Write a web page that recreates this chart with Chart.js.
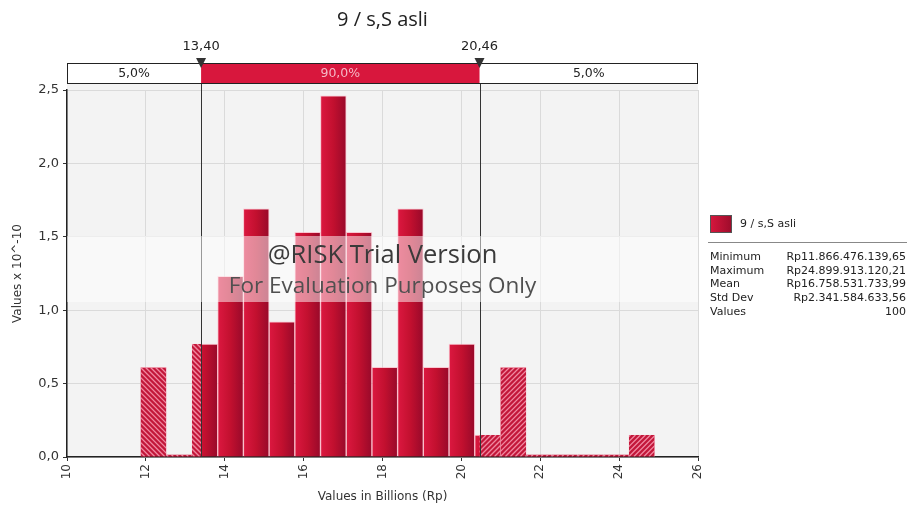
<!DOCTYPE html>
<html>
<head>
<meta charset="utf-8">
<script src="https://cdn.jsdelivr.net/npm/chart.js@4.4.1/dist/chart.umd.min.js"></script>
<style>
  html, body { margin: 0; padding: 0; background: #fff; }
  #wrap { width: 907px; height: 515px; }
</style>
</head>
<body>
<div id="wrap"><canvas id="hist" width="907" height="515"></canvas></div>
<script>
// histogram bins (billions Rp) and density (x 10^-10)
const binEdges = [11.866, 12.518, 13.170, 13.821, 14.473, 15.125, 15.777, 16.428, 17.080, 17.732,
                  18.383, 19.035, 19.687, 20.339, 20.990, 21.642, 22.294, 22.945, 23.597, 24.249, 24.900];
const binValues = [0.61, 0, 0.77, 1.23, 1.69, 0.92, 1.53, 2.46, 1.53, 0.61,
                   1.69, 0.61, 0.77, 0.15, 0.61, 0, 0, 0, 0, 0.15];
const xTicks = [10, 12, 14, 16, 18, 20, 22, 24, 26];
const yTicks = [0, 0.5, 1.0, 1.5, 2.0, 2.5];
const cutLow = 13.40, cutHigh = 20.46;
const shares = ['5,0%', '90,0%', '5,0%'];
const statNames = ['Minimum', 'Maximum', 'Mean', 'Std Dev', 'Values'];
const statValues = ['Rp11.866.476.139,65', 'Rp24.899.913.120,21', 'Rp16.758.531.733,99', 'Rp2.341.584.633,56', '100'];
const seriesName = '9 / s,S asli';

const FONT = '"DejaVu Sans", Verdana, sans-serif';
const WFONT = '"Open Sans", "Noto Sans", sans-serif';
const points = binValues.map(function (v, i) {
    return { x: (binEdges[i] + binEdges[i + 1]) / 2, y: v };
});

function comma(v, d) { return v.toFixed(d).replace('.', ','); }

const decor = {
    id: 'decor',
    beforeDraw(chart) {
        const c = chart.ctx, a = chart.chartArea;
        c.save();
        c.fillStyle = '#f3f3f3';
        c.fillRect(a.left, 84, a.right - a.left, a.bottom - 84);
        c.restore();
    },
    afterDatasetsDraw(chart) {
        const c = chart.ctx, a = chart.chartArea, xs = chart.scales.x;
        const pLo = xs.getPixelForValue(cutLow), pHi = xs.getPixelForValue(cutHigh);
        const meta = chart.getDatasetMeta(0);
        meta.data.forEach(function (bar) {
            const l = bar.x - bar.width / 2, r = bar.x + bar.width / 2;
            const t = Math.min(bar.y, bar.base - 2), b = bar.base;
            [[l, Math.min(r, pLo), -1], [Math.max(l, pHi), r, 1]].forEach(function (seg) {
                if (seg[1] <= seg[0]) return;
                c.save();
                c.beginPath();
                c.rect(seg[0], t, seg[1] - seg[0], b - t);
                c.clip();
                c.fillStyle = '#c3173a';
                c.fillRect(seg[0], t, seg[1] - seg[0], b - t);
                c.strokeStyle = 'rgba(255,175,195,0.75)';
                c.lineWidth = 1.3;
                c.beginPath();
                for (let k = -200; k < 200; k += 5) {
                    if (seg[2] < 0) { c.moveTo(seg[0] + k, t); c.lineTo(seg[0] + k + (b - t), b); }
                    else { c.moveTo(seg[0] + k, b); c.lineTo(seg[0] + k + (b - t), t); }
                }
                c.stroke();
                c.restore();
            });
        });
        // cut-off lines
        c.save();
        c.strokeStyle = '#333';
        c.lineWidth = 1;
        [pLo, pHi].forEach(function (p) {
            c.beginPath();
            c.moveTo(Math.round(p) + 0.5, 83);
            c.lineTo(Math.round(p) + 0.5, a.bottom);
            c.stroke();
        });
        c.restore();
    },
    afterDraw(chart) {
        const c = chart.ctx, a = chart.chartArea, xs = chart.scales.x;
        const pLo = xs.getPixelForValue(cutLow), pHi = xs.getPixelForValue(cutHigh);
        const mid = (a.left + a.right) / 2;
        c.save();
        // watermark
        c.fillStyle = 'rgba(255,255,255,0.5)';
        c.fillRect(a.left, 236, a.right - a.left, 66);
        c.textAlign = 'center';
        c.textBaseline = 'middle';
        c.fillStyle = '#3a3a3a';
        c.font = '25.5px ' + WFONT;
        c.fillText('@RISK Trial Version', mid, 256);
        c.fillStyle = '#505050';
        c.font = '22.5px ' + WFONT;
        c.fillText('For Evaluation Purposes Only', mid, 287);
        // title
        c.fillStyle = '#222';
        c.font = '20px ' + WFONT;
        c.fillText(seriesName, mid, 20);
        // top delimiter bar
        const y0 = 63, h = 20;
        c.fillStyle = '#fff';
        c.fillRect(a.left, y0, a.right - a.left, h);
        c.fillStyle = '#d8173d';
        c.fillRect(pLo, y0, pHi - pLo, h);
        c.strokeStyle = '#222';
        c.lineWidth = 1;
        c.strokeRect(a.left + 0.5, y0 + 0.5, a.right - a.left - 1, h);
        c.font = '12.5px ' + FONT;
        c.fillStyle = '#222';
        c.fillText(shares[0], (a.left + pLo) / 2, y0 + h / 2 + 1);
        c.fillText(shares[2], (pHi + a.right) / 2, y0 + h / 2 + 1);
        c.fillStyle = '#f5b9c6';
        c.fillText(shares[1], (pLo + pHi) / 2, y0 + h / 2 + 1);
        // markers
        c.fillStyle = '#222';
        c.font = '13px ' + FONT;
        [[pLo, cutLow], [pHi, cutHigh]].forEach(function (m) {
            c.fillText(comma(m[1], 2), m[0], 47);
            c.fillStyle = '#333';
            c.beginPath();
            c.moveTo(m[0] - 5, 58);
            c.lineTo(m[0] + 5, 58);
            c.lineTo(m[0], 68);
            c.closePath();
            c.fill();
            c.fillStyle = '#222';
        });
        // legend + stats
        const g = c.createLinearGradient(710, 0, 732, 0);
        g.addColorStop(0, '#d8173d');
        g.addColorStop(1, '#9c0c2b');
        c.fillStyle = g;
        c.fillRect(710, 215, 21, 17);
        c.strokeStyle = '#555';
        c.strokeRect(710.5, 215.5, 21, 17);
        c.textAlign = 'left';
        c.fillStyle = '#222';
        c.font = '11px ' + FONT;
        c.fillText(seriesName, 740, 224);
        c.strokeStyle = '#888';
        c.beginPath();
        c.moveTo(708, 242.5);
        c.lineTo(907, 242.5);
        c.stroke();
        c.font = '11px ' + FONT;
        statNames.forEach(function (n, i) {
            const y = 257 + i * 13.7;
            c.textAlign = 'left';
            c.fillText(n, 710, y);
            c.textAlign = 'right';
            c.fillText(statValues[i], 906, y);
        });
        c.restore();
    }
};

new Chart(document.getElementById('hist'), {
    type: 'bar',
    data: {
        datasets: [{
            label: seriesName,
            data: points,
            barPercentage: 1,
            categoryPercentage: 1,
            minBarLength: 2,
            borderWidth: 1,
            borderColor: 'rgba(255,160,180,0.55)',
            borderSkipped: 'bottom',
            backgroundColor: function (ctx) {
                const ch = ctx.chart, xs = ch.scales.x;
                if (ctx.type !== 'data' || !xs) return '#c3173a';
                const i = ctx.dataIndex;
                const l = xs.getPixelForValue(binEdges[i]), r = xs.getPixelForValue(binEdges[i + 1]);
                if (!isFinite(l) || !isFinite(r) || r <= l) return '#c3173a';
                const g = ch.ctx.createLinearGradient(l, 0, r, 0);
                g.addColorStop(0, '#dc1840');
                g.addColorStop(0.5, '#c2102f');
                g.addColorStop(1, '#98092a');
                return g;
            }
        }]
    },
    options: {
        responsive: false,
        animation: false,
        layout: { padding: { top: 90, right: 209, left: 0, bottom: 0 } },
        plugins: { legend: { display: false }, tooltip: { enabled: false }, title: { display: false } },
        scales: {
            x: {
                type: 'linear',
                offset: false,
                min: xTicks[0],
                max: xTicks[xTicks.length - 1],
                afterBuildTicks: function (s) { s.ticks = xTicks.map(function (v) { return { value: v }; }); },
                afterFit: function (s) { s.height = 58; },
                grid: { offset: false, color: '#dadada', tickColor: '#333', tickLength: 4, drawTicks: true },
                border: { color: '#222', width: 1.5 },
                ticks: {
                    minRotation: 90, maxRotation: 90, padding: 3,
                    color: '#333', font: { family: FONT, size: 12 },
                    callback: function (v) { return String(v); }
                },
                title: {
                    display: true, text: 'Values in Billions (Rp)', color: '#333',
                    font: { family: FONT, size: 12 }, padding: { top: 0, bottom: 11 }
                }
            },
            y: {
                min: yTicks[0],
                max: yTicks[yTicks.length - 1],
                afterBuildTicks: function (s) { s.ticks = yTicks.map(function (v) { return { value: v }; }); },
                afterFit: function (s) { s.width = 67; },
                grid: { color: '#dadada', tickColor: '#333', tickLength: 4 },
                border: { color: '#222', width: 1.5 },
                ticks: {
                    padding: 4, color: '#333', font: { family: FONT, size: 13 },
                    callback: function (v) { return comma(v, 1); }
                },
                title: {
                    display: true, text: 'Values x 10^-10', color: '#333',
                    font: { family: FONT, size: 12 }, padding: { top: 11, bottom: 0 }
                }
            }
        }
    },
    plugins: [decor]
});
</script>
</body>
</html>
